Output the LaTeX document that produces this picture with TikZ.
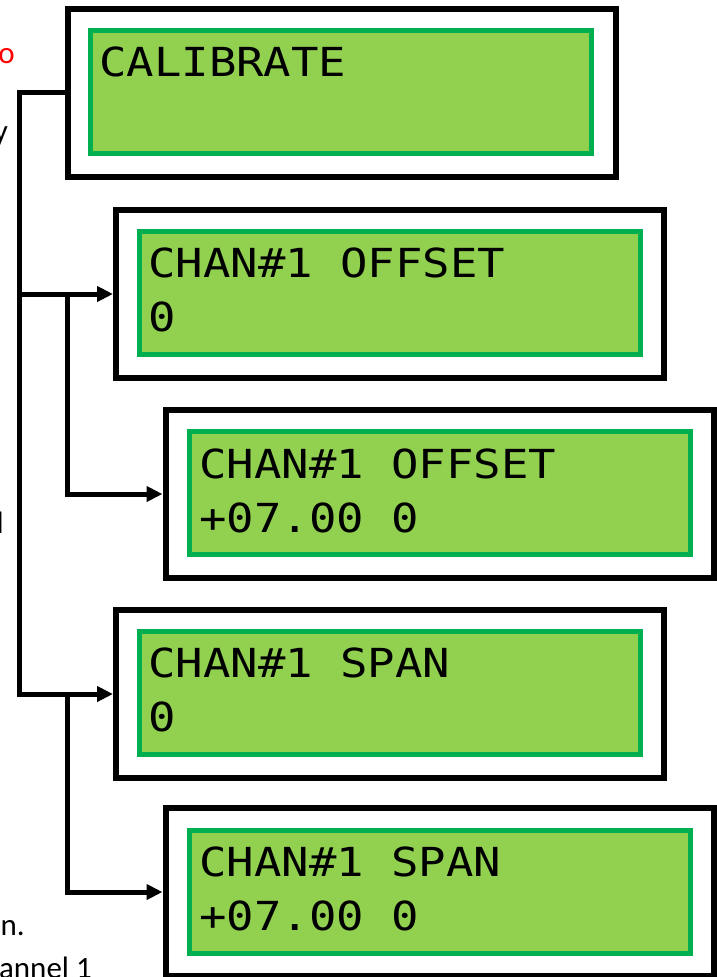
\documentclass[tikz,border=0pt]{standalone}
\usepackage{fontspec}
\setmainfont{Carlito}
\newfontfamily\lcdfont[FakeStretch=1.14]{DejaVu Sans Mono}
\usetikzlibrary{arrows.meta}
\definecolor{lcdfill}{HTML}{92D050}
\definecolor{lcdedge}{HTML}{00B050}
\definecolor{notered}{HTML}{FF0000}
\begin{document}
\begin{tikzpicture}[x=1pt,y=-1pt,
  frame/.style={draw=black,line width=6pt,minimum width=548pt,minimum height=168pt,inner sep=0pt},
  lcd/.style={draw=lcdedge,fill=lcdfill,line width=5pt,minimum width=501pt,minimum height=123pt,inner sep=0pt},
  lcdtext/.style={anchor=base west,inner sep=0pt,font=\lcdfont\fontsize{40}{48}\selectfont},
  side/.style={anchor=base east,inner sep=0pt,font=\fontsize{31}{37}\selectfont},
  link/.style={line width=5pt},
  arr/.style={link,-{Triangle[length=16pt,width=15pt]}}]
\useasboundingbox (0,0) rectangle (716,977);

% display screens: outer frame, green LCD panel, two text lines
\node[frame] (f1) at (341.5,92.5) {};
\node[lcd] (g1) at (341,91.5) {};
\node[lcdtext] (t1a) at (99,76) {CALIBRATE};

\node[frame] (f2) at (390,294) {};
\node[lcd] (g2) at (389.5,293) {};
\node[lcdtext] (t2a) at (148,277) {CHAN\#1 OFFSET};
\node[lcdtext] (t2b) at (148,331) {0};

\node[frame] (f3) at (439.5,494) {};
\node[lcd] (g3) at (440,493) {};
\node[lcdtext] (t3a) at (199,478) {CHAN\#1 OFFSET};
\node[lcdtext] (t3b) at (199,532) {+07.00 0};

\node[frame] (f4) at (390,694) {};
\node[lcd] (g4) at (389.5,693) {};
\node[lcdtext] (t4a) at (148,677) {CHAN\#1 SPAN};
\node[lcdtext] (t4b) at (148,731) {0};

\node[frame] (f5) at (439.5,892) {};
\node[lcd] (g5) at (440,892) {};
\node[lcdtext] (t5a) at (199,876) {CHAN\#1 SPAN};
\node[lcdtext] (t5b) at (199,930) {+07.00 0};

% menu tree connectors
\coordinate (busA) at (19,0);
\coordinate (busB) at (67,0);
\draw[arr] (f1.west) -| (busA |- f4.west) -- (f4.west);
\draw[arr] (busA |- f2.west) -- (f2.west);
\draw[arr] (busB |- f2.west) |- (f3.west);
\draw[arr] (busB |- f4.west) |- (f5.west);

% margin text running off the left edge
\node[side,text=notered] (m1) at (15,63) {o};
\node[side] (m2) at (8,141) {y};
\node[side] (m3) at (4,533) {l};
\node[side] (m4) at (25,935) {n.};
\node[side] (m5) at (92,978) {annel 1};
\end{tikzpicture}
\end{document}
